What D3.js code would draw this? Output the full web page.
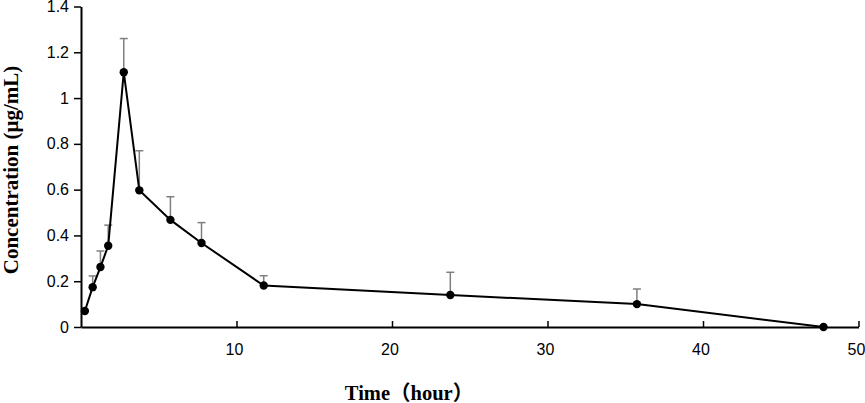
<!DOCTYPE html>
<html lang="en">
<head>
<meta charset="UTF-8">
<title>Concentration vs Time</title>
<script src="https://d3js.org/d3.v7.min.js"></script>
<style>
    body { margin: 0; background: #fff; }
    .tick text { font-family: "Liberation Sans", Arial, sans-serif; font-size: 16px; fill: #000; }
    .title { font-family: "Liberation Serif", "Times New Roman", "Noto Sans CJK SC", serif; font-weight: bold; fill: #000; }
</style>
</head>
<body>
<svg width="865" height="403"></svg>
<script>
    // values
    const times = [0.25, 0.75, 1.25, 1.75, 2.75, 3.75, 5.75, 7.75, 11.75, 23.75, 35.75, 47.75];
    const conc  = [0.070, 0.174, 0.262, 0.355, 1.113, 0.597, 0.468, 0.367, 0.181, 0.140, 0.100, 0.000];
    const sd    = [0.000, 0.049, 0.070, 0.090, 0.147, 0.173, 0.101, 0.089, 0.043, 0.099, 0.066, 0.000];
    const xTicks = [10, 20, 30, 40, 50];
    const yTicks = [0, 0.2, 0.4, 0.6, 0.8, 1, 1.2, 1.4];

    const data = times.map((t, i) => ({ t: t, c: conc[i], sd: sd[i] }));

    const svg = d3.select("svg");

    const x = d3.scaleLinear().domain([0, 50]).range([81, 858.5]);
    const y = d3.scaleLinear().domain([0, 1.4]).range([327, 6.5]);

    // error bars (upper only)
    const eb = svg.append("g").attr("stroke", "#7f7f7f").attr("stroke-width", 1.5);
    data.filter(d => d.sd > 0).forEach(d => {
        eb.append("line")
            .attr("x1", x(d.t)).attr("x2", x(d.t))
            .attr("y1", y(d.c)).attr("y2", y(d.c + d.sd));
        eb.append("line")
            .attr("x1", x(d.t) - 4).attr("x2", x(d.t) + 4)
            .attr("y1", y(d.c + d.sd)).attr("y2", y(d.c + d.sd));
    });

    // axes
    const xAxis = svg.append("g")
        .attr("transform", `translate(0,${y(0)})`)
        .call(d3.axisBottom(x).tickValues(xTicks).tickSizeInner(-6).tickSizeOuter(0).tickPadding(17));
    xAxis.select(".domain").attr("stroke", "#000").attr("stroke-width", 2);
    xAxis.selectAll(".tick line").attr("stroke", "#000").attr("stroke-width", 1.5);
    xAxis.selectAll(".tick text").attr("dx", -2.5);

    const yAxis = svg.append("g")
        .attr("transform", `translate(${x(0)},0)`)
        .call(d3.axisLeft(y).tickValues(yTicks).tickSize(7).tickSizeOuter(0).tickPadding(5)
            .tickFormat(d => String(+d.toFixed(1))));
    yAxis.select(".domain").attr("stroke", "#000").attr("stroke-width", 2);
    yAxis.selectAll(".tick line").attr("stroke", "#000").attr("stroke-width", 1.5);

    // line and markers
    const line = d3.line().x(d => x(d.t)).y(d => y(d.c));
    svg.append("path")
        .datum(data)
        .attr("fill", "none")
        .attr("stroke", "#000")
        .attr("stroke-width", 2)
        .attr("d", line);

    svg.append("g").selectAll("circle")
        .data(data)
        .enter().append("circle")
        .attr("cx", d => x(d.t))
        .attr("cy", d => y(d.c))
        .attr("r", 4.2)
        .attr("fill", "#000");

    // titles
    svg.append("text")
        .attr("class", "title")
        .attr("x", 409)
        .attr("y", 400)
        .attr("text-anchor", "middle")
        .attr("font-size", 20.5)
        .text("Time（hour）");

    svg.append("text")
        .attr("class", "title")
        .attr("transform", "translate(18,170) rotate(-90)")
        .attr("text-anchor", "middle")
        .attr("font-size", 21)
        .text("Concentration (μg/mL)");
</script>
</body>
</html>
